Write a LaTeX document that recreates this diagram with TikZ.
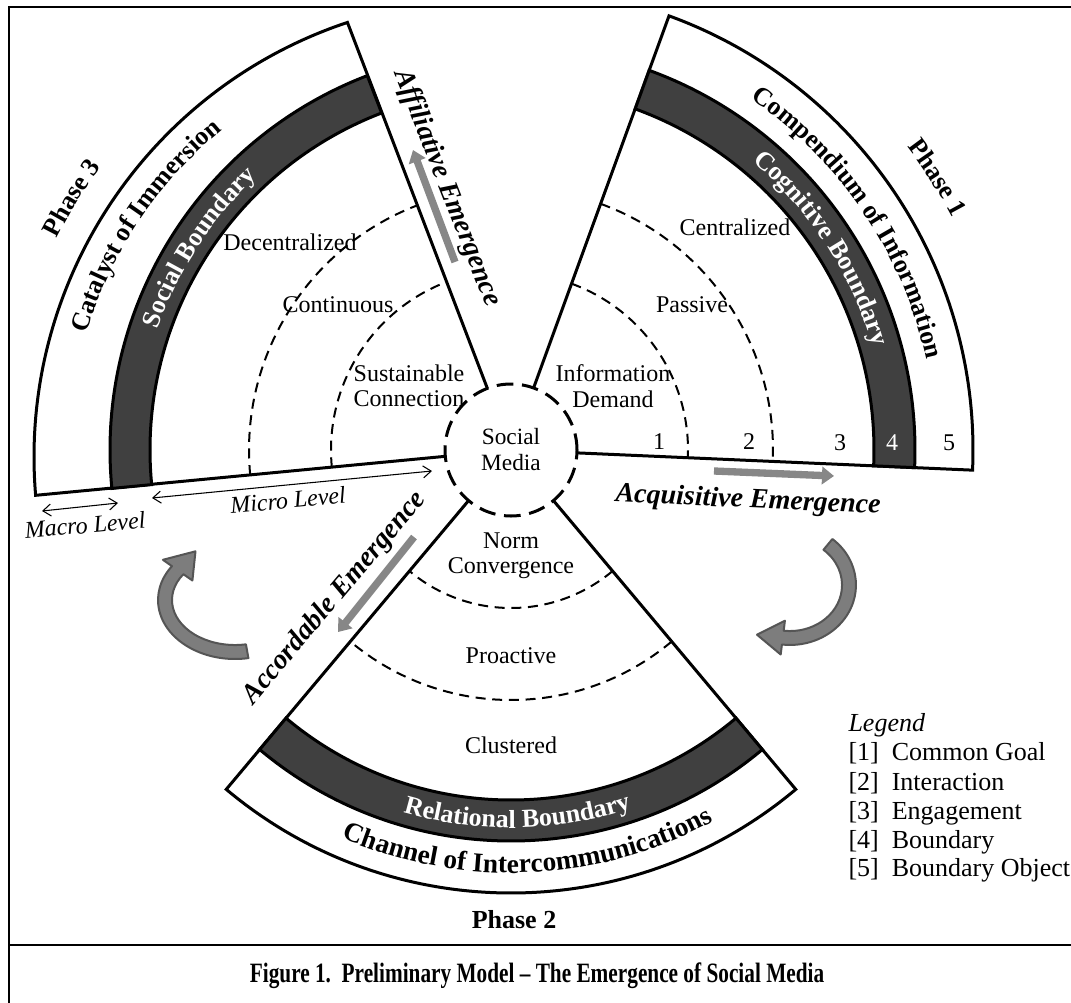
\documentclass[tikz,border=0pt]{standalone}
\usepackage{fontspec}
\usepackage{graphicx}
\setmainfont{Liberation Serif}
\usetikzlibrary{calc,arrows.meta,decorations.text}

\definecolor{bandgray}{RGB}{64,64,64}
\definecolor{flowgray}{RGB}{135,135,135}
\definecolor{turngray}{RGB}{125,125,125}
\definecolor{turnedge}{RGB}{85,85,85}

\tikzset{every picture/.style={line width=0.75pt}}
\tikzset{
  rim/.style={draw=black, line width=2.25pt, fill=white, line join=miter},
  bdry/.style={draw=black, line width=2.25pt, fill=bandgray},
  zone/.style={line width=1.5pt, dash pattern=on 7.5pt off 5pt},
  hub/.style={circle, draw, fill=white, line width=2.25pt, dash pattern=on 12.5pt off 6.5pt, minimum size=99pt, inner sep=0pt, align=center, font=\fontsize{17.5}{19.5}\selectfont},
  lbl/.style={inner sep=0pt, align=center, font=\fontsize{18}{19}\selectfont},
  num/.style={inner sep=0pt, font=\fontsize{18}{19}\selectfont},
  phs/.style={inner sep=0pt, font=\bfseries\fontsize{19.5}{20}\selectfont},
  emg/.style={inner sep=0pt, font=\bfseries\itshape\fontsize{21}{22}\selectfont},
  lvl/.style={inner sep=0pt, font=\itshape\fontsize{18}{19}\selectfont},
  leg/.style={anchor=west, inner sep=0pt, font=\fontsize{19.5}{22}\selectfont},
  flow/.style={draw=flowgray, line width=5.5pt, -{Triangle[length=9pt,width=13pt]}},
  span/.style={line width=0.8pt, {Straight Barb[length=6pt,width=9pt]}-{Straight Barb[length=6pt,width=9pt]}},
  turn/.style={fill=turngray, draw=turnedge, line width=1.5pt, line join=round},
  frame/.style={line width=1.8pt},
  rimtext/.style={decorate, decoration={text along path, text align=center, text={|\bfseries\fontsize{19.5}{20}\selectfont|#1}}},
  bandtext/.style={decorate, decoration={text along path, text align=center, text={|\color{white}\bfseries\fontsize{19.5}{20}\selectfont|#1}}}
}

\begin{document}
\begin{tikzpicture}[x=0.75pt,y=0.75pt,yscale=-1,xscale=1]
\useasboundingbox (0,0) rectangle (1071,1003);

%Frame and caption rule
\draw[frame] (9,1010) -- (9,7) -- (1080,7);
\draw[frame] (9,945) -- (1080,945);

\coordinate (O) at (511,450);
\coordinate (O3) at (492,457);

%Phase 1 sector
\draw[rim] ($(O)+(-70:60)$) -- ($(O)+(-70:462)$) arc[start angle=-70, end angle=2.5, radius=462] -- ($(O)+(2.5:60)$) -- cycle;
\draw[bdry] ($(O)+(-70:363)$) arc[start angle=-70, end angle=2.5, radius=363] -- ($(O)+(2.5:404)$) arc[start angle=2.5, end angle=-70, radius=404] -- cycle;
\draw[zone] ($(O)+(-70:177)$) arc[start angle=-70, end angle=2.5, radius=177];
\draw[zone] ($(O)+(-70:262)$) arc[start angle=-70, end angle=2.5, radius=262];

%Phase 3 sector
\draw[rim] ($(O)+(249:60)$) -- ($(O3)+(251.6:458)$) arc[start angle=251.6, end angle=175.2, radius=458] -- ($(O)+(174.5:60)$) -- cycle;
\draw[bdry] ($(O)+(174.5:361)$) arc[start angle=174.5, end angle=249, radius=361] -- ($(O)+(249:401)$) arc[start angle=249, end angle=174.5, radius=401] -- cycle;
\draw[zone] ($(O)+(174.5:180)$) arc[start angle=174.5, end angle=249, radius=180];
\draw[zone] ($(O)+(174.5:262)$) arc[start angle=174.5, end angle=249, radius=262];

%Phase 2 sector
\draw[rim] ($(O)+(50:60)$) -- ($(O)+(50:443)$) arc[start angle=50, end angle=130, radius=443] -- ($(O)+(130:60)$) -- cycle;
\draw[bdry] ($(O)+(50:350)$) arc[start angle=50, end angle=130, radius=350] -- ($(O)+(130:391)$) arc[start angle=130, end angle=50, radius=391] -- cycle;
\draw[zone] ($(O)+(50:158)$) arc[start angle=50, end angle=130, radius=158];
\draw[zone] ($(O)+(50:250)$) arc[start angle=50, end angle=130, radius=250];

%Hub
\node[hub] (sm) at (O) {Social\\Media};

%Curved texts
\path[rimtext={Compendium of Information}] ($(O)+(-74:425)$) arc[start angle=-74, end angle=6, radius=425];
\path[bandtext={Cognitive Boundary}] ($(O)+(-73:376)$) arc[start angle=-73, end angle=7, radius=376];
\path[rimtext={Phase 1}] ($(O)+(-72.6:499)$) arc[start angle=-72.6, end angle=7.4, radius=499];
\path[rimtext={Catalyst of Immersion}] ($(O3)+(173.7:424)$) arc[start angle=173.7, end angle=253.7, radius=424];
\path[bandtext={Social Boundary}] ($(O)+(173:373)$) arc[start angle=173, end angle=253, radius=373];
\path[rimtext={Phase 3}] ($(O3)+(171.6:487)$) arc[start angle=171.6, end angle=251.6, radius=487];
\path[bandtext={Relational Boundary}] ($(O)+(129:378)$) arc[start angle=129, end angle=49, radius=378];
\path[decorate, decoration={text along path, text align=center, text={|\bfseries\fontsize{20.5}{21}\selectfont|Channel of Intercommunications}}] ($(O)+(127.5:423)$) arc[start angle=127.5, end angle=47.5, radius=423];

% Text Node
\node[lbl] (cen) at (735,227) {Centralized};
\node[lbl] (pas) at (692,305) {Passive};
\node[lbl] (dem) at (613,386) {Information\\Demand};
\node[num] (n1) at (659,442) {1};
\node[num] (n2) at (749,442) {2};
\node[num] (n3) at (840,443) {3};
\node[num, text=white] (n4) at (892,443) {4};
\node[num] (n5) at (949,443) {5};
% Text Node
\node[lbl] (dec) at (290,242) {Decentralized};
\node[lbl] (con) at (338,305) {Continuous};
\node[lbl] (sus) at (409,386) {Sustainable\\Connection};
% Text Node
\node[lbl] (nrm) at (511,556) {Norm\\Convergence};
\node[lbl] (pro) at (511,656) {Proactive};
\node[lbl] (clu) at (511,745) {Clustered};
\node[phs] (ph2) at (514,920) {Phase 2};

%Emergence arrows
\coordinate (acqA) at (714,471);
\coordinate (acqB) at (834,476);
\coordinate (affA) at (455,262);
\coordinate (affB) at (413,150);
\coordinate (accA) at (414,537);
\coordinate (accB) at (338,632);
\draw[flow] (acqA) -- (acqB);
\draw[flow] (affA) -- (affB);
\draw[flow] (accA) -- (accB);
\node[emg, rotate=-2.5] (acq) at (748,501) {Acquisitive Emergence};
\node[emg, rotate=-68.6] (aff) at (447,188) {Affiliative Emergence};
\node[emg, rotate=50] (acc) at (335,598) {Accordable Emergence};

%Levels
\coordinate (miL) at (152,498);
\coordinate (miR) at (432,471);
\coordinate (maL) at (42,511);
\coordinate (maR) at (118,503);
\draw[span] (miL) -- (miR);
\draw[span] (maL) -- (maR);
\node[lvl, rotate=5.4] (mic) at (288,500) {Micro Level};
\node[lvl, rotate=5.4] (mac) at (85,525) {Macro Level};

%Turn arrows
\draw[turn] (248.4,658.1) arc[start angle=80, end angle=215, x radius=77, y radius=59] -- (162.9,559.8) -- (195.5,551.3) -- (192.4,580.5) -- (183.4,574.2) arc[start angle=215, end angle=80, x radius=63, y radius=45] -- cycle;
\draw[turn] (832.4,539) arc[start angle=-50, end angle=97, x radius=66, y radius=60] -- (780.7,654.5) -- (757,634.7) -- (784.9,620.7) -- (783.7,630.7) arc[start angle=97, end angle=-50, x radius=52, y radius=46] -- cycle;

%Legend
\node[leg] (lg0) at (848,725) {\itshape Legend};
\node[leg] (lg1) at (848,753) {[1]\enspace Common Goal};
\node[leg] (lg2) at (848,783) {[2]\enspace Interaction};
\node[leg] (lg3) at (848,813) {[3]\enspace Engagement};
\node[leg] (lg4) at (848,842) {[4]\enspace Boundary};
\node[leg] (lg5) at (848,870) {[5]\enspace Boundary Object};

%Caption
\node[inner sep=0pt, font=\bfseries\fontsize{21}{22}\selectfont] (fig) at (537,976) {\scalebox{0.76}[1]{Figure 1.\ \ Preliminary Model -- The Emergence of Social Media}};

\end{tikzpicture}
\end{document}
